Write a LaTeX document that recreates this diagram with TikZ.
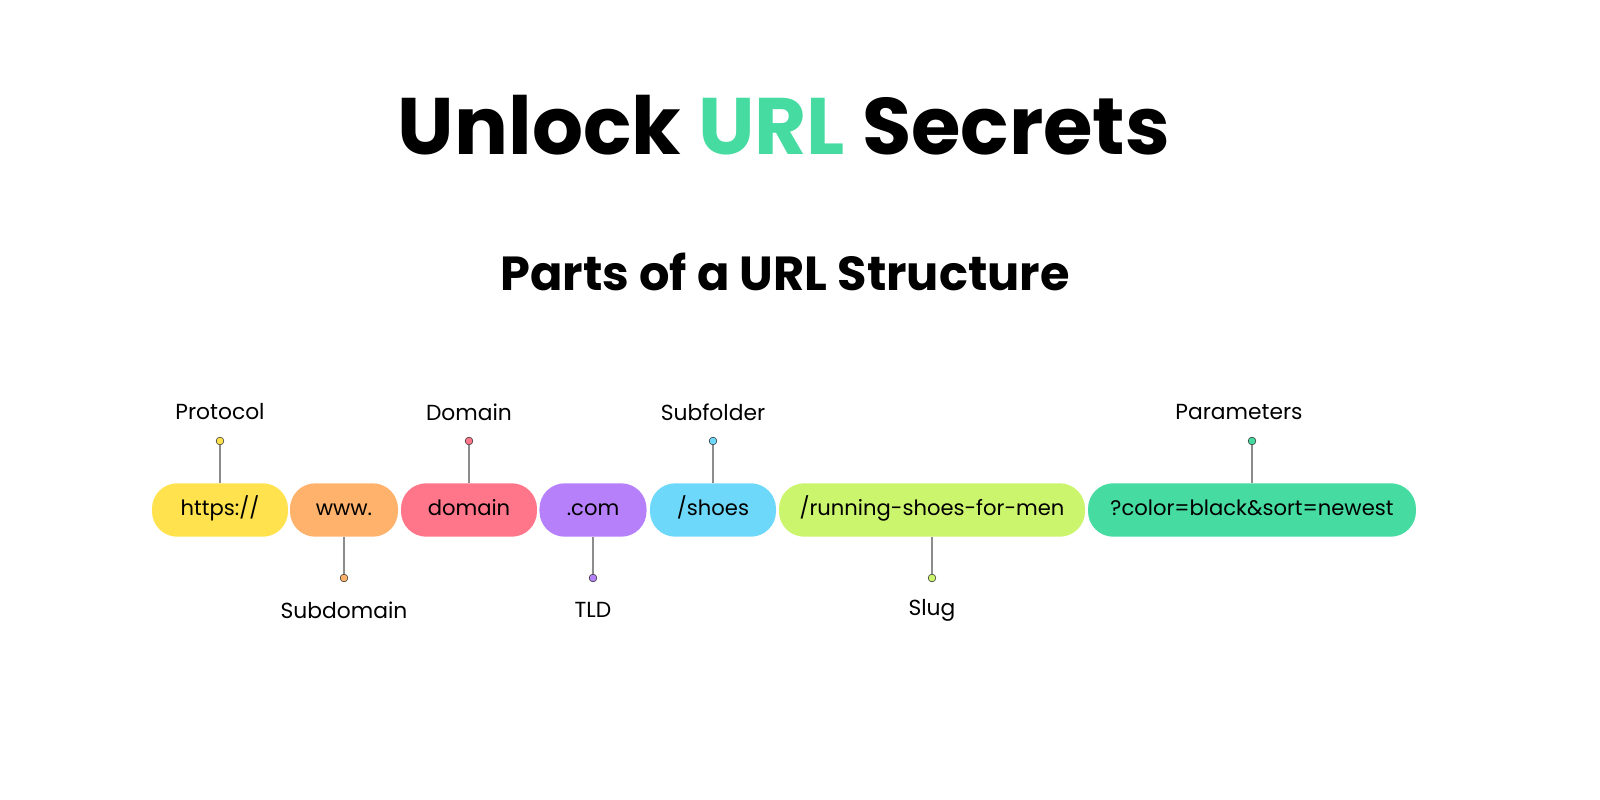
\documentclass[tikz,border=0pt]{standalone}
\usepackage{fontspec}
\setmainfont{Poppins}
\usetikzlibrary{positioning}
\definecolor{cProto}{HTML}{FFE24D}
\definecolor{cSub}{HTML}{FFB26B}
\definecolor{cDom}{HTML}{FF7589}
\definecolor{cTld}{HTML}{B580FA}
\definecolor{cFold}{HTML}{6ED8FB}
\definecolor{cSlug}{HTML}{CCF56E}
\definecolor{cPar}{HTML}{45DBA1}
\tikzset{
	pill/.style={rounded corners=18pt, minimum height=38pt, inner sep=0pt, text height=11pt, text depth=3pt, font=\fontsize{15}{15}\selectfont},
	dot/.style={circle, draw=black!80, line width=0.4pt, inner sep=0pt, minimum size=5.5pt},
	lab/.style={font=\fontsize{15.5}{16}\selectfont},
	stem/.style={draw=black!45, line width=0.8pt}
}
\begin{document}
\begin{tikzpicture}[x=0.025cm, y=-0.025cm]
	\useasboundingbox (0,0) rectangle (1600,800);
	%titles
	\node[font=\bfseries\fontsize{57}{57}\selectfont] (title) at (784,125) {Unlock \textcolor{cPar}{URL} Secrets};
	\node[font=\bfseries\fontsize{34}{34}\selectfont] (subtitle) at (785,272) {Parts of a URL Structure};
	%pills
	\node[pill, fill=cProto, minimum width=96.7pt] (proto) at (220,510) {https://};
	\node[pill, fill=cSub, minimum width=76.8pt] (sub) at (344,510) {www.};
	\node[pill, fill=cDom, minimum width=96.7pt] (dom) at (469,510) {domain};
	\node[pill, fill=cTld, minimum width=76.1pt] (tld) at (593,510) {.com};
	\node[pill, fill=cFold, minimum width=89.6pt] (fold) at (713,510) {/shoes};
	\node[pill, fill=cSlug, minimum width=217.6pt] (slug) at (932,510) {/running-shoes-for-men};
	\node[pill, fill=cPar, minimum width=233.2pt] (par) at (1252,510) {?color=black\&sort=newest};
	%top labels
	\node[dot, fill=cProto] (protoDot) at (220,441) {};
	\node[dot, fill=cDom] (domDot) at (469,441) {};
	\node[dot, fill=cFold] (foldDot) at (713,441) {};
	\node[dot, fill=cPar] (parDot) at (1252,441) {};
	\node[lab] (protoLab) at (220,412) {Protocol};
	\node[lab] (domLab) at (469,412) {Domain};
	\node[lab] (foldLab) at (713,412) {Subfolder};
	\node[lab] (parLab) at (1239,412) {Parameters};
	%bottom labels
	\node[dot, fill=cSub] (subDot) at (344,578) {};
	\node[dot, fill=cTld] (tldDot) at (593,578) {};
	\node[dot, fill=cSlug] (slugDot) at (932,578) {};
	\node[lab] (subLab) at (344,610) {Subdomain};
	\node[lab] (tldLab) at (593,610) {TLD};
	\node[lab] (slugLab) at (932,610) {Slug};
	%stems
	\foreach \p in {proto,dom,fold,par}
	\draw[stem] (\p.north) -- (\p Dot.south);
	\foreach \p in {sub,tld,slug}
	\draw[stem] (\p.south) -- (\p Dot.north);
\end{tikzpicture}
\end{document}
